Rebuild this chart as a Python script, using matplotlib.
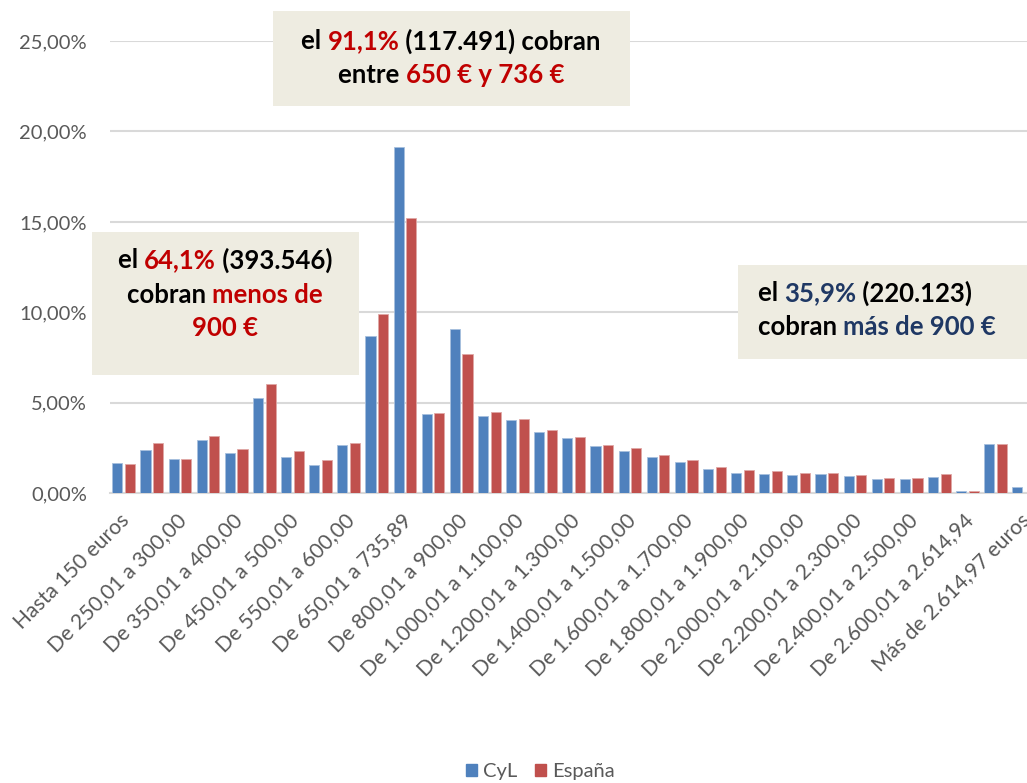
import matplotlib
matplotlib.use("Agg")
import matplotlib.pyplot as plt
import matplotlib.transforms as mtrans
from matplotlib.patches import Patch, Rectangle
import numpy as np

plt.rcParams['font.family'] = ['Lato', 'DejaVu Sans']

# categories (tramos de pension)
categories = [
    "Hasta 150 euros", "De 150,01 a 250,00", "De 250,01 a 300,00", "De 300,01 a 350,00",
    "De 350,01 a 400,00", "De 400,01 a 450,00", "De 450,01 a 500,00", "De 500,01 a 550,00",
    "De 550,01 a 600,00", "De 600,01 a 650,00", "De 650,01 a 735,89", "De 735,90 a 800,00",
    "De 800,01 a 900,00", "De 900,01 a 1.000,00", "De 1.000,01 a 1.100,00", "De 1.100,01 a 1.200,00",
    "De 1.200,01 a 1.300,00", "De 1.300,01 a 1.400,00", "De 1.400,01 a 1.500,00", "De 1.500,01 a 1.600,00",
    "De 1.600,01 a 1.700,00", "De 1.700,01 a 1.800,00", "De 1.800,01 a 1.900,00", "De 1.900,01 a 2.000,00",
    "De 2.000,01 a 2.100,00", "De 2.100,01 a 2.200,00", "De 2.200,01 a 2.300,00", "De 2.300,01 a 2.400,00",
    "De 2.400,01 a 2.500,00", "De 2.500,01 a 2.600,00", "De 2.600,01 a 2.614,94", "2.614,96 euros",
    "Más de 2.614,97 euros",
]

# percentages
cyl = [1.66, 2.41, 1.88, 2.96, 2.23, 5.25, 2.02, 1.55, 2.65, 8.71, 19.12, 4.36, 9.08,
       4.27, 4.03, 3.40, 3.06, 2.60, 2.36, 2.00, 1.73, 1.34, 1.12, 1.08, 1.03, 1.05,
       0.96, 0.79, 0.79, 0.92, 0.11, 2.71, 0.33]
espana = [1.62, 2.76, 1.88, 3.17, 2.43, 6.04, 2.34, 1.84, 2.76, 9.92, 15.21, 4.42, 7.71,
          4.47, 4.10, 3.50, 3.09, 2.67, 2.50, 2.13, 1.86, 1.45, 1.27, 1.23, 1.10, 1.10,
          0.99, 0.83, 0.86, 1.08, 0.11, 2.71, np.nan]  # last one cut off in the picture

yticks = [0, 5, 10, 15, 20, 25]

W, H = 1027, 783
fig = plt.figure(figsize=(W / 100, H / 100), dpi=100)

# axes placed in pixel terms
left, right, top, bottom = 109.6, 1027, 41, 493.3
ax = fig.add_axes([left / W, 1 - bottom / H, (right - left) / W, (bottom - top) / H])

x = np.arange(len(categories))
bw = 0.36
off = 0.225
ax.bar(x - off, cyl, bw, color="#4F81BD", edgecolor="#A7C0DE", linewidth=0.6, zorder=3)
ax.bar(x + off, espana, bw, color="#C0504D", edgecolor="#E0A8A6", linewidth=0.6, zorder=3)

ax.set_xlim(-0.5, (right - 123.7) / 28.125)
ax.set_ylim(0, 25)
ax.set_yticks(yticks)
ax.set_yticklabels(["%d,00%%" % v for v in yticks])
ax.yaxis.grid(True, color="#D9D9D9", linewidth=1.5, zorder=0)
ax.set_axisbelow(True)
for s in ["top", "right", "left"]:
    ax.spines[s].set_visible(False)
ax.spines["bottom"].set_color("#D9D9D9")
ax.spines["bottom"].set_linewidth(1.5)
ax.tick_params(axis="both", length=0, labelsize=14.5, labelcolor="#595959")
ax.tick_params(axis="y", pad=16.3)

ax.set_xticks(x[::2])
ax.set_xticklabels(categories[::2], rotation=45, ha="right", va="center",
                   rotation_mode="anchor", fontsize=15.2)
ax.tick_params(axis="x", pad=17)
shift = mtrans.ScaledTranslation(3 / 100, 0, fig.dpi_scale_trans)
for lab in ax.get_xticklabels():
    lab.set_transform(lab.get_transform() + shift)

# legend at the bottom
handles = [Patch(color="#4F81BD", label="CyL"), Patch(color="#C0504D", label="España")]
leg = fig.legend(handles=handles, loc="center", bbox_to_anchor=(0.526, 1 - 772 / H), ncol=2,
                 frameon=False, fontsize=14.5, handlelength=0.55, handleheight=0.55,
                 handletextpad=0.3, columnspacing=0.9)
for t in leg.get_texts():
    t.set_color("#595959")

RED = "#C00000"
BLUE = "#1F3864"
BLACK = "#000000"
BOX = "#EEECE1"


def box(x0, y0, x1, y1):
    fig.patches.append(Rectangle((x0 / W, 1 - y1 / H), (x1 - x0) / W, (y1 - y0) / H,
                                 transform=fig.transFigure, facecolor=BOX,
                                 edgecolor="none", zorder=5))


def rich_line(pieces, xpos, ypos, ha="center", size=18.5):
    # draw a line made of coloured pieces, xpos/ypos in pixels from top-left
    renderer = fig.canvas.get_renderer()
    texts = []
    for s, c in pieces:
        t = fig.text(0, 0, s, color=c, fontsize=size, fontweight="bold",
                     va="center", ha="left", zorder=6)
        texts.append(t)
    widths = [t.get_window_extent(renderer).width for t in texts]
    total = sum(widths)
    start = xpos - total / 2 if ha == "center" else xpos
    for t, w in zip(texts, widths):
        t.set_position((start / W, 1 - ypos / H))
        start += w


box(273, 11, 630, 106)
rich_line([("el ", BLACK), ("91,1%", RED), (" (117.491) cobran", BLACK)], 451, 41)
rich_line([("entre ", BLACK), ("650 € y 736 €", RED)], 451, 75)

box(92, 232, 359, 375)
rich_line([("el ", BLACK), ("64,1%", RED), (" (393.546)", BLACK)], 225, 260)
rich_line([("cobran ", BLACK), ("menos de", RED)], 225, 295)
rich_line([("900 €", RED)], 225, 328)

box(738, 265, 1027, 359)
rich_line([("el ", BLACK), ("35,9%", BLUE), (" (220.123)", BLACK)], 758, 293, ha="left")
rich_line([("cobran ", BLACK), ("más de 900 €", BLUE)], 758, 327, ha="left")

fig.savefig("out.png", dpi=100)
